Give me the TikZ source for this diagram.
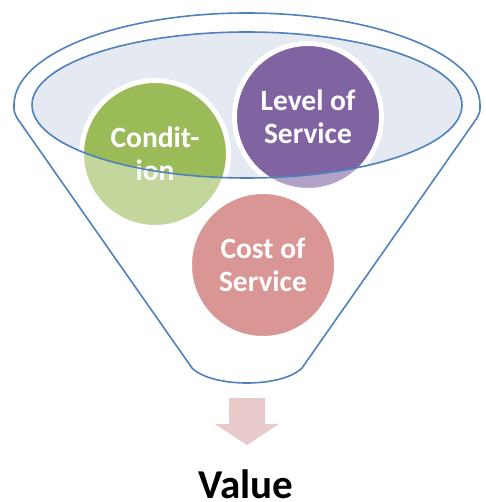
\documentclass[tikz,border=0pt]{standalone}
\usepackage{fontspec}
\newfontfamily\carl{Carlito}
\definecolor{funnelblue}{HTML}{4F81BD}
\definecolor{rimfill}{HTML}{E4E9F2}
\definecolor{cgreen}{HTML}{9BBB59}
\definecolor{cpurple}{HTML}{8064A2}
\definecolor{cred}{HTML}{C0504D}
\definecolor{arrowpink}{HTML}{E8CACA}
\tikzset{
  ball/.style={circle, minimum size=147pt, inner sep=0pt, draw=white, line width=5pt,
    text=white, align=center, font=\carl\bfseries\fontsize{29.5}{33}\selectfont},
  funnelline/.style={draw=funnelblue, line width=1.6pt},
}
\begin{document}
\begin{tikzpicture}[x=1pt,y=-1pt]
\useasboundingbox (0,0) rectangle (485,502);
\def\funnelpath{(14,105) arc[start angle=180,end angle=360,x radius=233,y radius=92]
  .. controls (480,112) .. (477,118) -- (302,368)
  .. controls (282,388) and (212,388) .. (192,368) -- (17,118)
  .. controls (14,112) .. cycle}
% rim fill
\fill[rimfill] (247,105) ellipse[x radius=215, y radius=73];
% balls
\node[ball, fill=cgreen] (cond) at (155,154) {Condit-\\ion};
\node[ball, fill=cpurple] (los) at (308,117) {Level of\\Service};
\node[ball, fill=cred] (cos) at (263,265) {Cost of\\Service};
% translucent front of the funnel
\fill[white, fill opacity=0.4, even odd rule] \funnelpath (247,105) ellipse[x radius=215, y radius=73];
% outlines
\draw[funnelline, line join=round] \funnelpath;
\draw[funnelline] (247,105) ellipse[x radius=215, y radius=73];
% arrow
\fill[arrowpink] (229,398) -- (265,398) -- (265,424) -- (279,424) -- (247,445) -- (215,424) -- (229,424) -- cycle;
\node[anchor=base, inner sep=0pt, font=\carl\bfseries\fontsize{41}{45}\selectfont] (value) at (246,498.5) {Value};
\end{tikzpicture}
\end{document}
